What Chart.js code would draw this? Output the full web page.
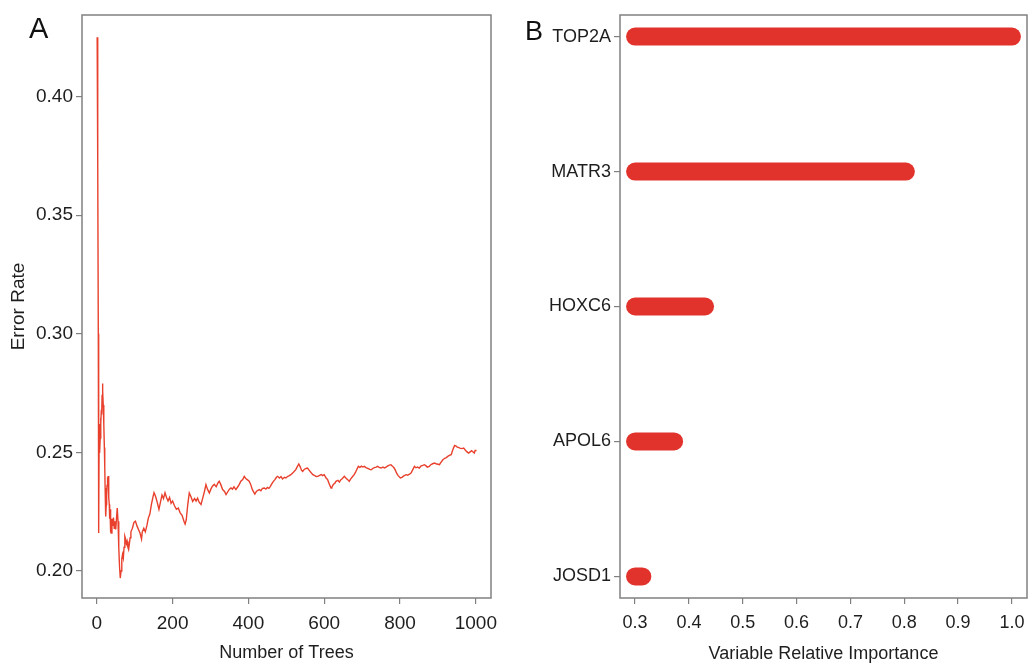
<!DOCTYPE html>
<html>
<head>
<meta charset="utf-8">
<script src="https://cdn.jsdelivr.net/npm/chart.js@4.4.1/dist/chart.umd.min.js"></script>
<style>
html,body{margin:0;padding:0;background:#fff;width:1028px;height:666px;overflow:hidden;}
#ca{position:absolute;left:0;top:0;}
#cb{position:absolute;left:500px;top:0;}
</style>
</head>
<body>
<canvas id="ca" width="500" height="666"></canvas>
<canvas id="cb" width="528" height="666"></canvas>
<script>
// ---------- Panel A data: OOB error rate vs number of trees ----------
const trees = [1,2,3,4,5,6,7,8,9,10,11,12,13,14,15,16,17,18,19,20,21,22,23,24,25,26,27,28,29,30,31,32,33,34,35,36,37,38,40,42,44,46,48,50,52,54,56,58,60,62,64,66,68,70,72,74,76,78,80,82,84,86,88,90,94,98,102,106,110,114,118,120,124,128,132,136,140,144,148,151,155,160,164,168,172,176,180,184,188,192,196,200,205,210,215,220,225,230,233,236,240,244,248,253,258,262,266,270,275,280,284,288,292,297,301,305,310,315,320,323,327,332,337,341,346,350,354,358,362,367,372,376,380,385,389,393,397,402,406,410,414,417,421,425,429,433,437,442,446,450,454,458,462,466,470,474,477,482,486,490,495,499,503,508,512,516,520,525,529,533,537,540,543,547,552,556,560,565,570,575,579,583,588,592,596,600,605,609,613,618,620,624,628,631,636,640,644,648,653,657,662,666,670,675,679,683,686,690,694,698,702,706,710,715,720,724,728,732,737,741,745,750,755,759,763,768,772,776,780,784,787,791,795,801,805,810,816,820,825,829,833,838,842,846,851,855,860,864,868,872,877,881,886,891,895,900,904,908,913,918,922,926,930,935,938,941,944,948,951,954,958,963,968,972,976,981,985,989,992,996,998,1000];
const errorRate = [0.425,0.390,0.372,0.300,0.216,0.250,0.262,0.250,0.256,0.2645,0.262,0.268,0.266,0.274,0.279,0.276,0.270,0.2645,0.262,0.252,0.244,0.235,0.228,0.223,0.228,0.232,0.236,0.2395,0.237,0.240,0.235,0.231,0.228,0.222,0.226,0.219,0.2165,0.216,0.222,0.219,0.2225,0.218,0.221,0.2175,0.222,0.2265,0.221,0.210,0.202,0.197,0.200,0.205,0.207,0.2055,0.210,0.2146,0.2135,0.2115,0.2125,0.210,0.209,0.2115,0.214,0.2165,0.218,0.2205,0.221,0.219,0.2175,0.216,0.2135,0.2165,0.218,0.2165,0.219,0.2223,0.224,0.228,0.231,0.233,0.2315,0.2286,0.226,0.229,0.232,0.2305,0.233,0.231,0.2295,0.231,0.2285,0.2295,0.2275,0.226,0.2265,0.2245,0.2235,0.221,0.2198,0.2215,0.228,0.2329,0.2315,0.2293,0.2305,0.2295,0.2307,0.229,0.228,0.231,0.2335,0.2364,0.2345,0.2329,0.2345,0.2357,0.2365,0.2355,0.2372,0.2378,0.2365,0.2343,0.2335,0.2322,0.2335,0.2345,0.235,0.2345,0.2355,0.2343,0.2355,0.2365,0.2378,0.2385,0.2399,0.239,0.2385,0.2378,0.2365,0.2345,0.2332,0.2324,0.2335,0.234,0.2343,0.2338,0.2348,0.235,0.2345,0.2352,0.2348,0.2357,0.2368,0.2378,0.2385,0.2395,0.2399,0.2392,0.2398,0.2388,0.2395,0.2392,0.2398,0.2402,0.2406,0.2412,0.2418,0.2427,0.244,0.2451,0.2438,0.2425,0.242,0.2428,0.2432,0.2434,0.2425,0.2415,0.2406,0.2402,0.2398,0.2399,0.2403,0.2406,0.2402,0.2406,0.2392,0.2385,0.2368,0.235,0.2352,0.2365,0.237,0.2378,0.2382,0.2375,0.2385,0.239,0.2399,0.2392,0.2385,0.2378,0.2388,0.2398,0.2406,0.2418,0.2428,0.2441,0.2437,0.2442,0.2438,0.2441,0.2436,0.2432,0.2428,0.2427,0.2432,0.2436,0.2438,0.2441,0.2437,0.2434,0.2438,0.2434,0.2438,0.2443,0.2446,0.2448,0.2442,0.2435,0.2427,0.2412,0.2402,0.2392,0.2395,0.2401,0.2406,0.2404,0.2408,0.2413,0.2425,0.2441,0.2435,0.2438,0.2434,0.2442,0.2445,0.2448,0.2444,0.2438,0.2441,0.2448,0.2452,0.2455,0.2452,0.245,0.2448,0.2458,0.2469,0.2475,0.2478,0.2483,0.2487,0.249,0.2505,0.2518,0.2529,0.2526,0.2522,0.2521,0.2518,0.2516,0.2518,0.251,0.2503,0.2497,0.2502,0.2507,0.2503,0.2497,0.2508,0.2511];
const treeTicks = [0,200,400,600,800,1000];
const errorTicks = [0.20,0.25,0.30,0.35,0.40];

// ---------- Panel B data: variable relative importance ----------
const genes = ['TOP2A','MATR3','HOXC6','APOL6','JOSD1'];
const importance = [1.0, 0.803, 0.430, 0.3725, 0.3135];
const segmentStart = 0.3;
const importanceTicks = [0.3,0.4,0.5,0.6,0.7,0.8,0.9,1.0];

// ---------- styling ----------
const FONT = '"Liberation Sans",Arial,sans-serif';
const TXT = '#1e1e1e';
const AXC = '#808080';
Chart.defaults.font.family = FONT;
Chart.defaults.color = TXT;

const framePlugin = {
  id: 'frame',
  afterDatasetsDraw(chart, args, opts) {
    const {ctx, chartArea: a} = chart;
    ctx.save();
    ctx.strokeStyle = AXC;
    ctx.lineWidth = 1.5;
    ctx.strokeRect(a.left, a.top, a.right - a.left, a.bottom - a.top);
    if (opts.label) {
      ctx.fillStyle = '#111';
      ctx.font = opts.size + 'px ' + FONT;
      ctx.textBaseline = 'alphabetic';
      ctx.textAlign = 'left';
      ctx.fillText(opts.label, a.left + opts.dx, opts.y);
    }
    ctx.restore();
  }
};

function tickGrid() {
  return {display: true, drawOnChartArea: false, drawTicks: true, tickLength: 6, color: AXC, lineWidth: 1.2};
}
function noSidePad(s) { s.paddingLeft = 0; s.paddingRight = 0; }
function noEndPad(s) { s.paddingTop = 0; s.paddingBottom = 0; }

// ---------- Chart A ----------
new Chart(document.getElementById('ca'), {
  type: 'line',
  data: {
    datasets: [{
      data: trees.map((t, i) => ({x: t, y: errorRate[i]})),
      borderColor: '#E8402C',
      borderWidth: 1.4,
      pointRadius: 0,
      tension: 0,
      fill: false
    }]
  },
  options: {
    responsive: false,
    animation: false,
    devicePixelRatio: 1,
    layout: {padding: {top: 15, right: 9, left: 0, bottom: 0}},
    plugins: {legend: {display: false}, tooltip: {enabled: false},
      frame: {label: 'A', size: 29, dx: -53, y: 38}},
    scales: {
      x: {
        type: 'linear', min: -39, max: 1040,
        afterBuildTicks: s => { s.ticks = treeTicks.map(v => ({value: v})); },
        afterFit: s => { s.height = 68; noSidePad(s); },
        grid: tickGrid(), border: {display: false},
        ticks: {autoSkip: false, maxRotation: 0, padding: 8, font: {size: 19}, color: TXT, callback: v => String(v)},
        title: {display: true, text: 'Number of Trees', font: {size: 18}, color: TXT, padding: {top: 0, bottom: 2}}
      },
      y: {
        type: 'linear', min: 0.1886, max: 0.4344,
        afterBuildTicks: s => { s.ticks = errorTicks.map(v => ({value: v})); },
        afterFit: s => { s.width = 82; noEndPad(s); },
        grid: tickGrid(), border: {display: false},
        ticks: {autoSkip: false, padding: 3, font: {size: 19}, color: TXT, callback: v => Number(v).toFixed(2)},
        title: {display: true, text: 'Error Rate', font: {size: 19}, color: TXT, padding: {top: 7, bottom: 0}}
      }
    }
  },
  plugins: [framePlugin]
});

// ---------- Chart B ----------
new Chart(document.getElementById('cb'), {
  type: 'line',
  data: {
    datasets: genes.map((g, i) => ({
      label: g,
      data: [{x: segmentStart, y: i}, {x: importance[i], y: i}],
      borderColor: '#E2322C',
      borderWidth: 18,
      borderCapStyle: 'round',
      pointRadius: 0,
      clip: false,
      fill: false
    }))
  },
  options: {
    responsive: false,
    animation: false,
    devicePixelRatio: 1,
    layout: {padding: {top: 15, right: 1, left: 0, bottom: 0}},
    plugins: {legend: {display: false}, tooltip: {enabled: false},
      frame: {label: 'B', size: 27, dx: -95, y: 40}},
    scales: {
      x: {
        type: 'linear', min: 0.272, max: 1.028,
        afterBuildTicks: s => { s.ticks = importanceTicks.map(v => ({value: v})); },
        afterFit: s => { s.height = 68; noSidePad(s); },
        grid: tickGrid(), border: {display: false},
        ticks: {autoSkip: false, maxRotation: 0, padding: 8, font: {size: 18}, color: TXT, callback: v => Number(v).toFixed(1)},
        title: {display: true, text: 'Variable Relative Importance', font: {size: 18}, color: TXT, padding: {top: 0, bottom: 1}}
      },
      y: {
        type: 'linear', min: -0.16, max: genes.length - 1 + 0.16, reverse: true,
        afterBuildTicks: s => { s.ticks = genes.map((g, i) => ({value: i})); },
        afterFit: s => { s.width = 120; noEndPad(s); },
        grid: tickGrid(), border: {display: false},
        ticks: {autoSkip: false, padding: 3, font: {size: 18}, color: TXT, callback: v => genes[v]}
      }
    }
  },
  plugins: [framePlugin]
});
</script>
</body>
</html>
